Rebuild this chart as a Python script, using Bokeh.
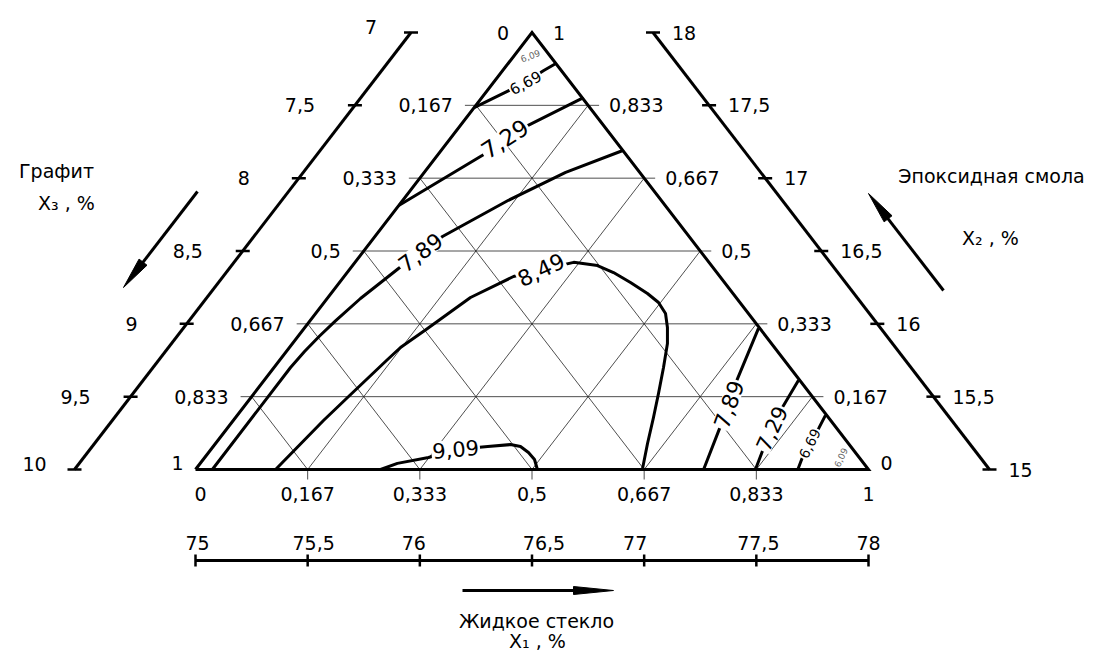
import numpy as np
from bokeh.plotting import figure
from bokeh.models import Range1d
from bokeh.core.properties import value
from bokeh.embed import file_html
from bokeh.resources import INLINE

# ---------------- data ----------------
grid_levels = [1/6, 2/6, 3/6, 4/6, 5/6]
frac_values = [0, 1/6, 2/6, 3/6, 4/6, 5/6, 1]
frac_labels = ["0", "0,167", "0,333", "0,5", "0,667", "0,833", "1"]

x3_pct = [7, 7.5, 8, 8.5, 9, 9.5, 10]          # Графит, %
x3_lbl = ["7", "7,5", "8", "8,5", "9", "9,5", "10"]
x2_pct = [15, 15.5, 16, 16.5, 17, 17.5, 18]    # Эпоксидная смола, %
x2_lbl = ["15", "15,5", "16", "16,5", "17", "17,5", "18"]
x1_pct = [75, 75.5, 76, 76.5, 77, 77.5, 78]    # Жидкое стекло, %
x1_lbl = ["75", "75,5", "76", "76,5", "77", "77,5", "78"]

# contour lines (x1 = fraction of X1, x2 = fraction of X2)
c669_top_x1 = [0.000, 0.032, 0.047, 0.061, 0.071]
c669_top_x2 = [0.828, 0.867, 0.886, 0.913, 0.929]
c729_top_x1 = [0.000, 0.067, 0.083, 0.100, 0.151]
c729_top_x2 = [0.604, 0.719, 0.753, 0.787, 0.851]
c789_left_x1 = [0.025, 0.0245, 0.0270, 0.0315, 0.0380, 0.0495, 0.0716, 0.086, 0.1004, 0.157, 0.210, 0.270]
c789_left_x2 = [0.000, 0.2334, 0.2700, 0.3050, 0.3400, 0.3913, 0.4600, 0.497, 0.5332, 0.616, 0.680, 0.730]
c849_x1 = [0.119, 0.1341, 0.1435, 0.1591, 0.1650, 0.1834, 0.2118, 0.2517, 0.285, 0.325, 0.3639,
           0.3957, 0.4324, 0.4702, 0.4969, 0.5199, 0.5388, 0.5571, 0.5787, 0.6010, 0.6210, 0.6419, 0.664]
c849_x2 = [0.000, 0.1121, 0.1648, 0.2494, 0.2792, 0.3227, 0.3936, 0.4416, 0.457, 0.474, 0.4668,
           0.4508, 0.4279, 0.4027, 0.3822, 0.3570, 0.3249, 0.2883, 0.2334, 0.1739, 0.1190, 0.0595, 0.000]
c909_x1 = [0.275, 0.293, 0.3325, 0.363, 0.408, 0.4395, 0.4566, 0.4753, 0.4923, 0.508]
c909_x2 = [0.000, 0.014, 0.0275, 0.046, 0.0526, 0.057, 0.0526, 0.0389, 0.0229, 0.000]
c789_right_x1 = [0.675, 0.704, 0.718, 0.730, 0.755]
c789_right_x2 = [0.323, 0.197, 0.149, 0.101, 0.000]
c729_right_x1 = [0.794, 0.801, 0.809, 0.821, 0.832]
c729_right_x2 = [0.204, 0.142, 0.094, 0.0435, 0.000]
c669_right_x1 = [0.874, 0.879, 0.883, 0.888, 0.895]
c669_right_x2 = [0.124, 0.094, 0.0595, 0.0275, 0.000]

contours_x1 = [c669_top_x1, c729_top_x1, c789_left_x1, c849_x1, c909_x1,
               c789_right_x1, c729_right_x1, c669_right_x1]
contours_x2 = [c669_top_x2, c729_top_x2, c789_left_x2, c849_x2, c909_x2,
               c789_right_x2, c729_right_x2, c669_right_x2]

clabel_text = ["6,09", "6,69", "7,29", "7,89", "8,49", "9,09", "7,89", "7,29", "6,69", "6,09"]
clabel_x1 = [0.024, 0.047, 0.081, 0.086, 0.285, 0.363, 0.718, 0.809, 0.883, 0.945]
clabel_x2 = [0.947, 0.886, 0.757, 0.497, 0.457, 0.047, 0.149, 0.094, 0.0595, 0.0275]

# ---------------- layout / style ----------------
clabel_angle = [20, 28, 33, 37, 25, 5, 70, 65, 63, 65]
clabel_size = [9, 15, 23, 22, 22, 21, 22, 21, 14, 9]
clabel_color = ["#666666", "black", "black", "black", "black", "black", "black", "black", "black", "#666666"]

W, H = 1094, 651
OX, OY = 195.0, 469.0      # px of the bottom-left vertex
SU, SV = 673.0, 437.0      # px per unit along base / height
FONT = value("DejaVu Sans")
FS = "19px"


def tern(x1, x2):
    x1 = np.asarray(x1, dtype=float)
    x2 = np.asarray(x2, dtype=float)
    return x1 + x2 / 2.0, x2


def uv(px, py):
    return (np.asarray(px, float) - OX) / SU, (OY - np.asarray(py, float)) / SV


p = figure(width=W, height=H, output_backend="svg", toolbar_location=None,
           x_range=Range1d((0 - OX) / SU, (W - OX) / SU),
           y_range=Range1d((OY - H) / SV, OY / SV),
           min_border=0)
p.axis.visible = False
p.grid.visible = False
p.outline_line_color = None
p.background_fill_color = "white"

# ---- ternary grid ----
EXT = 11 / SU
TICK = 10 / SV
gx, gy = [], []
for g in grid_levels:
    u, v = tern([0, 1 - g], [g, g])                # constant X2
    gx.append([u[0] - EXT, u[1] + EXT]); gy.append(list(v))
    u, v = tern([g, g], [0, 1 - g])                # constant X1
    gx.append(list(u)); gy.append(list(v))
    u, v = tern([1 - g, 0], [0, 1 - g])            # constant X3
    gx.append(list(u)); gy.append(list(v))
    gx.append([g, g]); gy.append([0, -TICK])       # base tick
p.multi_line(gx, gy, line_color="#222222", line_width=0.8)

# ---- contours ----
cx, cy = [], []
for a, b in zip(contours_x1, contours_x2):
    u, v = tern(a, b)
    cx.append(list(u)); cy.append(list(v))
p.multi_line(cx, cy, line_color="black", line_width=3, line_join="round")

lu, lv = tern(clabel_x1, clabel_x2)
p.text(x=list(lu), y=list(lv), text=clabel_text, angle=clabel_angle, angle_units="deg",
       text_font=FONT, text_font_size=[f"{s}px" for s in clabel_size],
       text_color=clabel_color, text_align="center", text_baseline="middle",
       background_fill_color="white", padding=1)

# ---- triangle ----
tu, tv = tern([0, 1, 0, 0], [0, 0, 1, 0])
p.line(list(tu), list(tv), line_color="black", line_width=3, line_join="miter")

# ---- fraction labels on the triangle ----
fv = np.array(frac_values)
lab_v = 1 - fv                                   # left edge: X3 fraction = 1 - X2
lab_u = lab_v / 2 - np.where(lab_v > 0, 23, 12) / SU
lab_vv = lab_v + np.where(lab_v > 0, 0, 7) / SV
p.text(x=list(lab_u), y=list(lab_vv), text=frac_labels, text_font=FONT, text_font_size=FS,
       text_align="right", text_baseline="middle", text_color="black")
r_v = fv                                         # right edge: X2 fraction
r_u = 1 - r_v / 2 + np.where(r_v > 0, 21, 12) / SU
r_vv = r_v + np.where(r_v > 0, 0, 7) / SV
p.text(x=list(r_u), y=list(r_vv), text=frac_labels, text_font=FONT, text_font_size=FS,
       text_align="left", text_baseline="middle", text_color="black")
p.text(x=list(fv + np.array([5, 0, 0, 0, 0, 0, 0]) / SU), y=[-24 / SV] * len(fv), text=frac_labels,
       text_font=FONT, text_font_size=FS, text_align="center", text_baseline="middle", text_color="black")

# ---- percent scales ----
OFF = 121 / SU
TK = 7 / SU
# left: Графит
x3f = (np.array(x3_pct) - x3_pct[0]) / (x3_pct[-1] - x3_pct[0])
v3 = 1 - x3f
u3 = v3 / 2 - OFF
p.line([0 - OFF, 0.5 - OFF], [0, 1], line_color="black", line_width=3)
p.multi_line([[a - TK, a + TK] for a in u3], [[b, b] for b in v3], line_color="black", line_width=2.5)
dx3 = np.array([40] + [55] * (len(v3) - 2) + [40]) / SU
dy3 = np.array([6] + [0] * (len(v3) - 2) + [6]) / SV
p.text(x=list(u3 - dx3), y=list(v3 + dy3), text=x3_lbl, text_font=FONT, text_font_size=FS,
       text_align="center", text_baseline="middle", text_color="black")
# right: Эпоксидная смола
v2 = (np.array(x2_pct) - x2_pct[0]) / (x2_pct[-1] - x2_pct[0])
u2 = 1 - v2 / 2 + OFF
p.line([1 + OFF, 0.5 + OFF], [0, 1], line_color="black", line_width=3)
p.multi_line([[a - TK, a + TK] for a in u2], [[b, b] for b in v2], line_color="black", line_width=2.5)
p.text(x=list(u2 + 19 / SU), y=list(v2), text=x2_lbl, text_font=FONT, text_font_size=FS,
       text_align="left", text_baseline="middle", text_color="black")
# bottom: Жидкое стекло
u1 = (np.array(x1_pct) - x1_pct[0]) / (x1_pct[-1] - x1_pct[0])
VB = -91 / SV
p.line([0, 1], [VB, VB], line_color="black", line_width=3)
p.multi_line([[a, a] for a in u1], [[VB - 6 / SV, VB + 6 / SV] for a in u1], line_color="black", line_width=2.5)
nud1 = np.array([2, 6, -6, 12, -9, 2, 0]) / SU
p.text(x=list(u1 + nud1), y=[VB + 18 / SV] * len(u1), text=x1_lbl, text_font=FONT, text_font_size=FS,
       text_align="center", text_baseline="middle", text_color="black")

# ---- arrows ----
arrows = [((197, 191), (123, 287), 32, 5), ((943, 290), (868, 193), 32, 5), ((462, 590), (613, 590), 40, 4)]
for (tx, ty), (hx, hy), L, w in arrows:
    d = np.array([hx - tx, hy - ty], float)
    d /= np.hypot(*d)
    n = np.array([-d[1], d[0]])
    base = np.array([hx, hy]) - d * L
    au, av = uv([tx, base[0] + d[0] * 5], [ty, base[1] + d[1] * 5])
    p.line(list(au), list(av), line_color="black", line_width=3)
    pts = np.array([[hx, hy], base + n * w, base - n * w])
    hu, hv = uv(pts[:, 0], pts[:, 1])
    p.patch(list(hu), list(hv), fill_color="black", line_color="black", line_width=1)

# ---- titles ----
tx_, ty_ = uv([56, 66, 991, 990, 536, 537], [170, 202, 175, 237, 620, 640])
p.text(x=list(tx_), y=list(ty_),
       text=["Графит", "X₃ , %", "Эпоксидная смола", "X₂ , %", "Жидкое стекло", "X₁ , %"],
       text_font=FONT, text_font_size=FS, text_align="center", text_baseline="middle",
       text_color="black")

open("out.html", "w").write(file_html(p, INLINE))
